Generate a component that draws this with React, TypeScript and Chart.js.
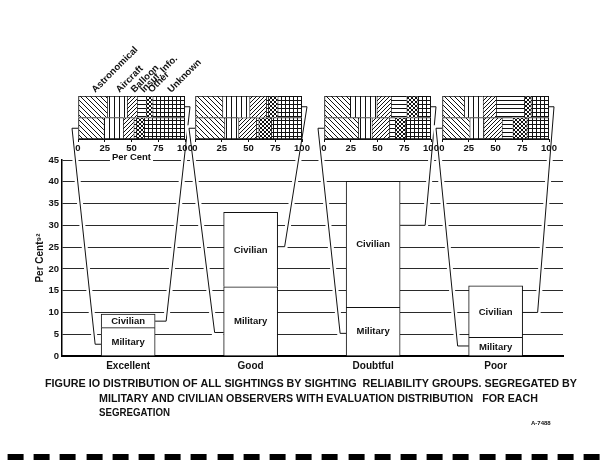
import React, { useEffect, useRef } from 'react';
import { Chart, registerables } from 'chart.js';

Chart.register(...registerables);

// ---- data ----
const groups = ['Excellent', 'Good', 'Doubtful', 'Poor'];
const militaryPct = [6.5, 15.9, 11.2, 4.3];
const civilianPct = [3.1, 17.1, 28.9, 11.8];

const evaluations = ['Astronomical', 'Aircraft', 'Balloon', 'Insuf. Info.', 'Other', 'Unknown'];
const excellentCivilian = [27.2, 18.6, 9.3, 8.4, 6.2, 30.3];
const excellentMilitary = [24.1, 18.0, 9.9, 2.2, 7.7, 38.1];
const goodCivilian = [25.6, 25.3, 15.6, 2.0, 8.7, 22.8];
const goodMilitary = [27.5, 13.1, 16.6, 2.2, 11.8, 28.8];
const doubtfulCivilian = [24.3, 24.9, 13.4, 14.6, 10.3, 12.5];
const doubtfulMilitary = [32.1, 12.5, 16.5, 5.3, 9.3, 24.3];
const poorCivilian = [20.8, 17.4, 12.4, 26.1, 6.2, 17.1];
const poorMilitary = [25.8, 13.0, 17.1, 10.2, 13.0, 20.9];

const pctTicks = [0, 25, 50, 75, 100];
const yAxisTitle = 'Per Cent\u2079\u00B2';
const boxAxisTitle = 'Per Cent';
const captionLine1 = 'FIGURE IO DISTRIBUTION OF ALL SIGHTINGS BY SIGHTING  RELIABILITY GROUPS. SEGREGATED BY';
const captionLine2 = 'MILITARY AND CIVILIAN OBSERVERS WITH EVALUATION DISTRIBUTION   FOR EACH';
const captionLine3 = 'SEGREGATION';
const figureCode = 'A-7488';

// connector anchor values (per cent) on the bars, and hook lengths (px)
const militaryLinkAt = [2.7, 5.4, 5.2, 2.3];
const civilianLinkAt = [8.0, 25.1, 30.0, 10.0];
const militaryHook = [6, 9, 6, 11];
const civilianHook = [11, 7, 25, 15];

// ---- layout ----
const FONT = '"Liberation Sans", Arial, sans-serif';
const INK = '#111';
const boxLefts = [78, 195, 324, 442];
const BOX_W = 107;
const SP_L = 14, SP_R = 28, SP_TOP = 40, SP_PADTOP = 56, SP_H = 130;
const SW = SP_L + BOX_W + SP_R;

function makePattern(kind: number): CanvasPattern {
  const sizes = [5, 5, 4, 4, 4, 4];
  const s = sizes[kind];
  const c = document.createElement('canvas');
  c.width = s;
  c.height = s;
  const g = c.getContext('2d')!;
  g.fillStyle = '#fff';
  g.fillRect(0, 0, s, s);
  g.strokeStyle = INK;
  g.lineWidth = 1;
  g.beginPath();
  const back = () => {
    for (const k of [-1, 0, 1]) {
      g.moveTo(k * s, 0);
      g.lineTo(k * s + s, s);
    }
  };
  const fwd = () => {
    for (const k of [-1, 0, 1]) {
      g.moveTo(k * s, s);
      g.lineTo(k * s + s, 0);
    }
  };
  if (kind === 0) back();
  if (kind === 1) { g.moveTo(0.5, 0); g.lineTo(0.5, s); }
  if (kind === 2) fwd();
  if (kind === 3) { g.moveTo(0, 0.5); g.lineTo(s, 0.5); }
  if (kind === 4) { back(); fwd(); }
  if (kind === 5) { g.moveTo(0.5, 0); g.lineTo(0.5, s); g.moveTo(0, 0.5); g.lineTo(s, 0.5); }
  g.stroke();
  return g.createPattern(c, 'repeat')!;
}

export default function App() {
  const mainRef = useRef<HTMLCanvasElement | null>(null);
  const smallRefs = useRef<(HTMLCanvasElement | null)[]>([]);

  useEffect(() => {
    const patterns = evaluations.map((_, k) => makePattern(k));
    const evalRows = [
      [excellentCivilian, excellentMilitary],
      [goodCivilian, goodMilitary],
      [doubtfulCivilian, doubtfulMilitary],
      [poorCivilian, poorMilitary],
    ];

    const smallCharts: Chart[] = evalRows.map(([civ, mil], gi) => {
      const labelPlugin = {
        id: 'evalLabels' + gi,
        afterDatasetsDraw(chart: any) {
          if (gi !== 0) return;
          const ctx = chart.ctx;
          ctx.save();
          ctx.font = `bold 9.5px ${FONT}`;
          ctx.fillStyle = INK;
          ctx.textAlign = 'left';
          ctx.textBaseline = 'alphabetic';
          chart.data.datasets.forEach((ds: any, k: number) => {
            const el = chart.getDatasetMeta(k).data[0] as any;
            const cx = (el.x + el.base) / 2;
            ctx.save();
            ctx.translate(cx + 2.5, chart.chartArea.top - 3);
            ctx.rotate(-Math.PI / 4);
            ctx.fillText(ds.label, 0, 0);
            ctx.restore();
          });
          ctx.restore();
        },
        afterDraw(chart: any) {
          if (gi !== 0) return;
          const ctx = chart.ctx;
          const a = chart.chartArea;
          const cx = (a.left + a.right) / 2;
          const y = a.bottom + 18.7;
          ctx.save();
          ctx.font = `bold 9.5px ${FONT}`;
          const w = ctx.measureText(boxAxisTitle).width;
          ctx.fillStyle = '#fff';
          ctx.fillRect(cx - w / 2 - 2, y - 6, w + 4, 11);
          ctx.fillStyle = INK;
          ctx.textAlign = 'center';
          ctx.textBaseline = 'middle';
          ctx.fillText(boxAxisTitle, cx, y);
          ctx.restore();
        },
      };
      return new Chart(smallRefs.current[gi]!, {
        type: 'bar',
        data: {
          labels: ['Civilian', 'Military'],
          datasets: evaluations.map((name, k) => ({
            label: name,
            data: [civ[k], mil[k]],
            backgroundColor: patterns[k],
            borderColor: INK,
            borderWidth: (ctx: any) => ({
              left: 1,
              top: 1,
              right: k === evaluations.length - 1 ? 1 : 0,
              bottom: ctx.dataIndex === 1 ? 1 : 0,
            }),
            borderSkipped: false,
            categoryPercentage: 1,
            barPercentage: 1,
          })),
        } as any,
        options: {
          indexAxis: 'y',
          responsive: false,
          animation: false,
          events: [],
          layout: { padding: { left: SP_L, right: SP_R, top: SP_PADTOP, bottom: 14 } },
          plugins: { legend: { display: false }, tooltip: { enabled: false } },
          scales: {
            x: {
              type: 'linear',
              stacked: true,
              min: 0,
              max: 100,
              offset: false,
              afterBuildTicks: (s: any) => {
                s.ticks = pctTicks.map((v) => ({ value: v }));
              },
              afterFit: (s: any) => {
                s.height = 17;
              },
              ticks: {
                font: { family: FONT, size: 9.5, weight: 'bold' },
                color: INK,
                padding: 1,
                autoSkip: false,
                maxRotation: 0,
              },
              grid: { drawOnChartArea: false, drawTicks: true, tickLength: 3, color: INK },
              border: { display: true, color: INK, width: 1 },
            },
            y: { type: 'category', stacked: true, display: false },
          },
        } as any,
        plugins: [labelPlugin],
      });
    });

    const connectorPlugin = {
      id: 'connectors',
      beforeDatasetsDraw(chart: any) {
        const ctx = chart.ctx;
        const ys = chart.scales.y;
        const mMeta = chart.getDatasetMeta(0);
        const cMeta = chart.getDatasetMeta(1);
        smallCharts.forEach((sc: any, i) => {
          const ox = boxLefts[i] - SP_L;
          const oy = SP_TOP;
          const boxL = sc.chartArea.left + ox;
          const boxR = sc.chartArea.right + ox;
          const civY = sc.scales.y.getPixelForValue(0) + oy;
          const milY = sc.scales.y.getPixelForValue(1) + oy;
          const mEl = mMeta.data[i] as any;
          const cEl = cMeta.data[i] as any;
          const barL = mEl.x - mEl.width / 2;
          const barR = cEl.x + cEl.width / 2;
          const mY = ys.getPixelForValue(militaryLinkAt[i]);
          const cY = ys.getPixelForValue(civilianLinkAt[i]);
          const paths = [
            [[boxL, milY], [boxL - 6, milY], [barL - militaryHook[i], mY], [barL, mY]],
            [[boxR, civY], [boxR + 5, civY], [barR + civilianHook[i], cY], [barR, cY]],
          ];
          for (const [stroke, width] of [['#fff', 6], [INK, 1]] as [string, number][]) {
            ctx.save();
            ctx.strokeStyle = stroke;
            ctx.lineWidth = width;
            ctx.lineJoin = 'miter';
            for (const p of paths) {
              ctx.beginPath();
              ctx.moveTo(p[0][0], p[0][1]);
              for (let j = 1; j < p.length; j++) ctx.lineTo(p[j][0], p[j][1]);
              ctx.stroke();
            }
            ctx.restore();
          }
        });
      },
    };

    const barLabelPlugin = {
      id: 'barLabels',
      afterDatasetsDraw(chart: any) {
        const ctx = chart.ctx;
        ctx.save();
        ctx.font = `bold 9.5px ${FONT}`;
        ctx.fillStyle = INK;
        ctx.textAlign = 'center';
        ctx.textBaseline = 'middle';
        chart.data.datasets.forEach((ds: any, d: number) => {
          chart.getDatasetMeta(d).data.forEach((el: any) => {
            ctx.fillText(ds.label, el.x, (el.y + el.base) / 2 + 0.5);
          });
        });
        ctx.restore();
      },
    };

    const captionPlugin = {
      id: 'caption',
      afterDraw(chart: any) {
        const ctx = chart.ctx;
        ctx.save();
        ctx.fillStyle = INK;
        ctx.textAlign = 'left';
        ctx.textBaseline = 'alphabetic';
        ctx.font = `bold 11px ${FONT}`;
        ctx.fillText(captionLine1, 45, 387, 532);
        ctx.fillText(captionLine2, 99, 402, 439);
        ctx.fillText(captionLine3, 99, 416, 71);
        ctx.font = `bold 6px ${FONT}`;
        ctx.fillText(figureCode, 531, 425, 22);
        ctx.restore();
      },
    };

    const mainChart = new Chart(mainRef.current!, {
      type: 'bar',
      data: {
        datasets: [
          {
            label: 'Military',
            data: groups.map((_, i) => ({ x: i, y: militaryPct[i] })),
            backgroundColor: '#fff',
            borderColor: INK,
            borderWidth: { top: 1, left: 1, right: 1, bottom: 0 },
            borderSkipped: false,
            barThickness: 54,
          },
          {
            label: 'Civilian',
            data: groups.map((_, i) => ({ x: i, y: civilianPct[i] })),
            backgroundColor: '#fff',
            borderColor: INK,
            borderWidth: { top: 1, left: 1, right: 1, bottom: 0 },
            borderSkipped: false,
            barThickness: 54,
          },
        ],
      } as any,
      options: {
        responsive: false,
        animation: false,
        events: [],
        layout: { padding: { left: 0, top: 160, right: 37, bottom: 88 } },
        plugins: { legend: { display: false }, tooltip: { enabled: false } },
        scales: {
          x: {
            type: 'linear',
            stacked: true,
            offset: false,
            min: -0.54,
            max: 3.55,
            afterBuildTicks: (s: any) => {
              s.ticks = groups.map((_, i) => ({ value: i }));
            },
            afterFit: (s: any) => {
              s.height = 20;
            },
            ticks: {
              callback: (v: any) => groups[v as number],
              font: { family: FONT, size: 10, weight: 'bold' },
              color: INK,
              padding: 4,
              autoSkip: false,
              maxRotation: 0,
            },
            grid: { display: false, drawTicks: false, tickLength: 0 },
            border: { display: true, color: '#000', width: 2 },
          },
          y: {
            stacked: true,
            min: 0,
            max: 45,
            afterFit: (s: any) => {
              s.width = 62;
            },
            ticks: {
              stepSize: 5,
              font: { family: FONT, size: 9.5, weight: 'bold' },
              color: INK,
              padding: 3,
            },
            grid: { color: '#2a2a2a', lineWidth: 1, drawTicks: false },
            border: { display: true, color: '#000', width: 1.5 },
            title: {
              display: true,
              text: yAxisTitle,
              font: { family: FONT, size: 10, weight: 'bold' },
              color: INK,
              padding: { top: 34, bottom: 0 },
            },
          },
        },
      } as any,
      plugins: [connectorPlugin, barLabelPlugin, captionPlugin],
    });

    return () => {
      mainChart.destroy();
      smallCharts.forEach((c) => c.destroy());
    };
  }, []);

  return (
    <div style={{ position: 'fixed', left: 0, top: 0, width: 600, height: 464, background: '#fff' }}>
      <canvas
        ref={mainRef}
        width={600}
        height={464}
        style={{ position: 'absolute', left: 0, top: 0, width: 600, height: 464 }}
      />
      {boxLefts.map((bx, i) => (
        <canvas
          key={i}
          ref={(el) => {
            smallRefs.current[i] = el;
          }}
          width={SW}
          height={SP_H}
          style={{ position: 'absolute', left: bx - SP_L, top: SP_TOP, width: SW, height: SP_H }}
        />
      ))}
      <div
        style={{
          position: 'absolute',
          left: 0,
          top: 454,
          width: 600,
          height: 6,
          backgroundImage: 'repeating-linear-gradient(to right, #000 0px, #000 16px, transparent 16px, transparent 26.2px)',
          backgroundPosition: '7.6px 0',
        }}
      />
    </div>
  );
}
